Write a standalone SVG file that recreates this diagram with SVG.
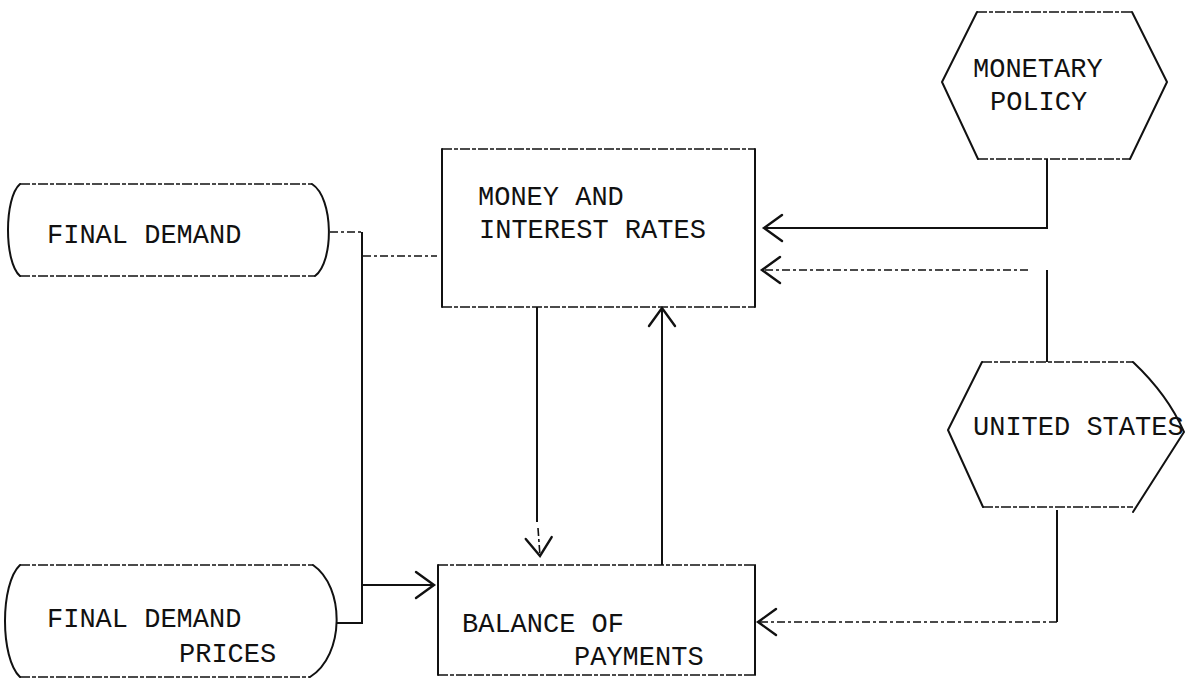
<svg xmlns="http://www.w3.org/2000/svg" width="1197" height="682" viewBox="0 0 1197 682">
<style>
.bg{fill:#fff}
.side{fill:none;stroke:#111;stroke-width:2;stroke-linejoin:round;stroke-linecap:round}
.edge{fill:none;stroke:#111;stroke-width:1.6;stroke-dasharray:10 2 4 2}
.solid{fill:none;stroke:#111;stroke-width:2}
.dash{fill:none;stroke:#111;stroke-width:1.6;stroke-dasharray:8 3 3 3}
.lbl{font-family:"Liberation Mono","DejaVu Sans Mono",monospace;font-size:27px;fill:#111}
</style>
<defs>
<marker id="ah" markerUnits="userSpaceOnUse" markerWidth="24" markerHeight="30" refX="20" refY="14" orient="auto" overflow="visible">
<path d="M2,1 L20,14 L2,27" fill="none" stroke="#111" stroke-width="2.4" stroke-linecap="round"/>
</marker>
</defs>
<rect class="bg" width="1197" height="682"/>

<g id="connectors">
<path class="solid" d="M1047,159 V228 H764" marker-end="url(#ah)"/>
<path class="solid" d="M1047,362 V270"/>
<path class="dash" d="M1028,270 H762" marker-end="url(#ah)"/>
<path class="solid" d="M1057,510 V622"/>
<path class="dash" d="M1057,622 H758" marker-end="url(#ah)"/>
<path class="dash" d="M330,232 H361"/>
<path class="solid" d="M362,232 V623 H337"/>
<path class="dash" d="M363,256 H437"/>
<path class="solid" d="M363,585 H434" marker-end="url(#ah)"/>
<path class="solid" d="M537,307 V522"/>
<path class="dash" d="M538,528 L540,556" marker-end="url(#ah)"/>
<path class="solid" d="M662,565 V308" marker-end="url(#ah)"/>
</g>

<g id="monetary-policy">
<path class="edge" d="M977,12 H1132 M978,159 H1130"/>
<path class="side" d="M977,12 L942,82 L978,159 M1132,12 L1167,82 L1130,159"/>
<text class="lbl" x="973" y="77">MONETARY</text>
<text class="lbl" x="990" y="110">POLICY</text>
</g>

<g id="final-demand">
<path class="edge" d="M20,184 H312 M20,276 H315"/>
<path class="side" d="M20,184 C4,198 4,262 20,276 M312,184 C334,198 334,262 315,276"/>
<text class="lbl" x="47" y="243">FINAL DEMAND</text>
</g>

<g id="money-interest-rates">
<path class="edge" d="M442,149 H755 M442,307 H755"/>
<path class="side" d="M442,149 V307 M755,149 V307"/>
<text class="lbl" x="478" y="205">MONEY AND</text>
<text class="lbl" x="479" y="238">INTEREST RATES</text>
</g>

<g id="united-states">
<path class="edge" d="M982,362 H1133 M983,507 H1133"/>
<path class="side" d="M982,362 L948,430 L983,507 M1133,362 Q1168,395 1184,432 L1133,512"/>
<text class="lbl" x="973" y="435">UNITED STATES</text>
</g>

<g id="final-demand-prices">
<path class="edge" d="M20,565 H313 M20,677 H310"/>
<path class="side" d="M20,565 C0,584 0,658 20,677 M313,565 C345,587 345,655 310,677"/>
<text class="lbl" x="47" y="627">FINAL DEMAND</text>
<text class="lbl" x="179" y="662">PRICES</text>
</g>

<g id="balance-of-payments">
<path class="edge" d="M438,565 H755 M438,675 H755"/>
<path class="side" d="M438,565 V675 M755,565 V675"/>
<text class="lbl" x="462" y="632">BALANCE OF</text>
<text class="lbl" x="574" y="665">PAYMENTS</text>
</g>
</svg>
